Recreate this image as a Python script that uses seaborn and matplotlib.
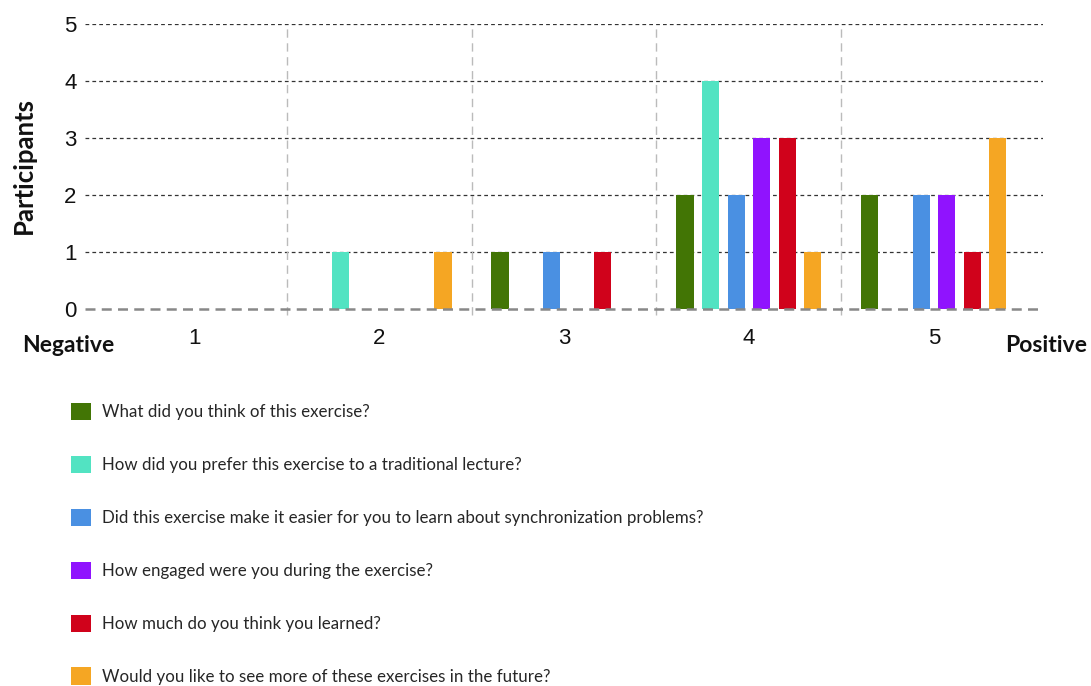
import matplotlib
matplotlib.use("Agg")
import matplotlib.pyplot as plt
import seaborn as sns
import pandas as pd

categories = ["1", "2", "3", "4", "5"]
questions = [
    "What did you think of this exercise?",
    "How did you prefer this exercise to a traditional lecture?",
    "Did this exercise make it easier for you to learn about synchronization problems?",
    "How engaged were you during the exercise?",
    "How much do you think you learned?",
    "Would you like to see more of these exercises in the future?",
]
think = [0, 0, 1, 2, 2]
prefer = [0, 1, 0, 4, 0]
easier = [0, 0, 1, 2, 2]
engaged = [0, 0, 0, 3, 2]
learned = [0, 0, 1, 3, 1]
future = [0, 1, 0, 1, 3]
colors = ["#427505", "#52E3C2", "#4A90E2", "#9013FE", "#D0021B", "#F5A623"]

series = [think, prefer, easier, engaged, learned, future]
rows = []
for q, vals in zip(questions, series):
    for c, v in zip(categories, vals):
        rows.append({"Rating": c, "Participants": v, "Question": q})
df = pd.DataFrame(rows)

sns.set_theme(style="white")
plt.rcParams["font.family"] = ["Lato", "DejaVu Sans"]

fig = plt.figure(figsize=(10.91, 6.86), dpi=100)
ax = fig.add_axes([85 / 1091, 1 - 309 / 686, (1043 - 85) / 1091, (309 - 24) / 686])

sns.barplot(data=df, x="Rating", y="Participants", hue="Question",
            order=categories, hue_order=questions, palette=colors,
            saturation=1, width=0.83, gap=0.33, linewidth=0, ax=ax)

ax.set_xlim(-0.59, 4.59)
ax.set_ylim(0, 5)
ax.set_yticks(range(0, 6))
for s in ax.spines.values():
    s.set_visible(False)
ax.tick_params(axis="both", length=0)
ax.tick_params(axis="y", pad=6)
ax.tick_params(axis="x", pad=14)
for lab in ax.get_xticklabels() + ax.get_yticklabels():
    lab.set_fontfamily(["Liberation Sans", "DejaVu Sans"])
    lab.set_fontsize(16)
    lab.set_color("#111111")

# grid
for y in range(1, 6):
    ax.axhline(y, color="#333333", lw=0.9, ls=(0, (3, 2.5)), zorder=0)
ax.axhline(0, color="#888888", lw=1.8, ls=(0, (4, 2.5)), zorder=3, clip_on=False)
for x in [0.5, 1.5, 2.5, 3.5]:
    ax.axvline(x, ymin=-0.022, ymax=0.99, color="#bbbbbb", lw=1.0,
               ls=(0, (6, 4)), zorder=0, clip_on=False)

ax.set_xlabel("")
ax.set_ylabel("Participants", fontsize=18.5, fontweight="bold",
              color="#111111", va="center")
ax.yaxis.set_label_coords(-(85 - 24) / 958, 1 - (165 - 24) / 285)

fig.text(22 / 1091, 1 - 345 / 686, "Negative", fontsize=16.5, fontweight="bold",
         ha="left", va="center", color="#111111")
fig.text(1087 / 1091, 1 - 345 / 686, "Positive", fontsize=16.5, fontweight="bold",
         ha="right", va="center", color="#111111")

handles, labels = ax.get_legend_handles_labels()
if ax.get_legend() is not None:
    ax.get_legend().remove()
fig.legend(handles, labels, loc="upper left",
           bbox_to_anchor=(71 / 1091, 1 - 403 / 686), frameon=False,
           fontsize=12.2, handlelength=1.18, handleheight=1.18,
           handletextpad=0.65, labelspacing=2.1, borderpad=0,
           borderaxespad=0)

fig.savefig("out.png", dpi=100)
